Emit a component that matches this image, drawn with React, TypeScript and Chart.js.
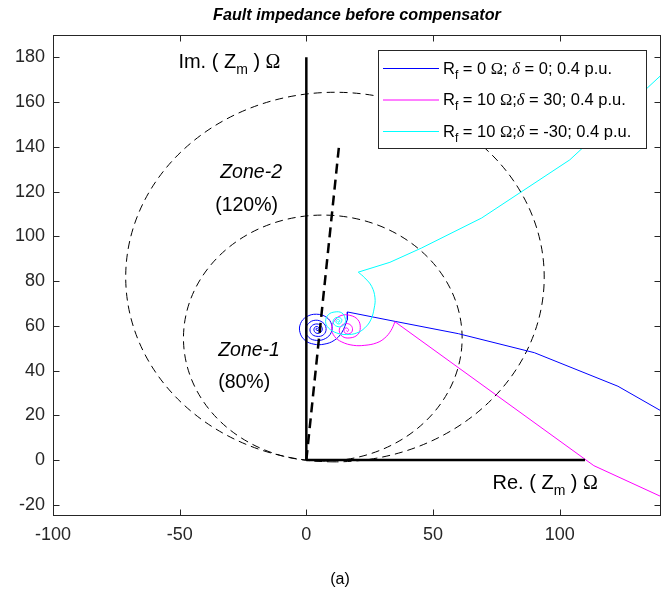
import React, { useEffect, useRef } from 'react';
import { Chart, registerables } from 'chart.js';
Chart.register(...registerables);

// ---- axis ticks ----
const X_TICKS = [-100, -50, 0, 50, 100];
const Y_TICKS = [-20, 0, 20, 40, 60, 80, 100, 120, 140, 160, 180];

// ---- Rf = 0, delta = 0 (blue) ----
const blueLineRe = [140, 123, 90, 60, 35, 16.2, 16.2];
const blueLineIm = [22, 33, 48, 56.5, 62, 66.2, 62.8];
const blueSpiralRe = [16.2, 14, 11, 7, 3, -0.5, -2.5, -2.3, 0, 4, 8, 10, 9.8, 7.5, 4, 1, -0.3, 0.8, 3.5, 6.5, 7.8, 6.8, 4.2, 2, 1.5, 3, 5.3, 6.3, 5.4, 3.8, 3, 3.6, 4.8, 5, 4.2, 3.8, 4.2, 4.4];
const blueSpiralIm = [62.8, 57, 53.5, 51.8, 51.8, 53.5, 57, 61, 64, 65.2, 63.8, 60.5, 57, 54.3, 53.5, 54.8, 58, 61, 62.5, 61.5, 58.8, 56, 55.3, 56.5, 58.8, 60.6, 60.5, 58.6, 56.9, 56.8, 58.2, 59.6, 59.4, 58.3, 57.9, 58.6, 59, 58.6];

// ---- Rf = 10, delta = 30 (magenta) ----
const magLineRe = [140, 113.5, 35];
const magLineIm = [-16.3, -2.5, 61.8];
const magSpiralRe = [35, 33.4, 31, 27.8, 23.1, 18.5, 14, 11.1, 10, 11.1, 13.7, 17.2, 20.3, 21.3, 20.3, 17.2, 14.2, 13, 14, 16.2, 17.9, 18.1, 16.8, 15.3, 14.9, 15.8, 16.7, 16.2, 15.9];
const magSpiralIm = [61.8, 57.9, 54.6, 52.4, 51.3, 51.3, 52.8, 55.3, 58.8, 62.3, 64.6, 64.7, 62.8, 59.3, 56.1, 54.6, 55.3, 57.9, 60.2, 61, 59.8, 57.6, 56.4, 56.8, 58.2, 59.1, 58.2, 57.4, 57.9];

// ---- Rf = 10, delta = -30 (cyan) ----
const cyanLineRe = [140, 104, 69.2, 45.5, 33, 20.5];
const cyanLineIm = [172, 134.2, 108.2, 94.8, 88.4, 84];
const cyanSpiralRe = [20.5, 23.1, 25.8, 27.1, 26.8, 25.5, 23.1, 19.9, 15.9, 12, 8.7, 7.6, 8.7, 11.3, 14, 15.3, 15.3, 14, 12, 10.6, 11, 12.6, 14, 13.4, 12.2, 11.7, 12.4, 13.2, 12.9, 12.4, 12.6];
const cyanSpiralIm = [84, 81.4, 77.6, 72.5, 68, 62.8, 59.1, 56.8, 56.1, 56.8, 59.1, 62, 65, 66.2, 65.8, 63.5, 61.3, 59.8, 59.8, 61.3, 63.1, 63.8, 62.8, 61.1, 61, 62, 62.9, 62.3, 61.6, 61.9, 62];

// ---- relay characteristic ----
const lineAngleRe = [0, 13];
const lineAngleIm = [0, 141.5];
const imAxisRe = [0, 0];
const imAxisIm = [0, 180];
const reAxisRe = [0, 110];
const reAxisIm = [0, 0];
const zoneCenterRe = [6.5, 11.3];
const zoneCenterIm = [54.5, 81.8];
const zoneRadius = [55, 82.6];

const LEGEND_LABELS = [
  { color: '#0000FF', rf: '0', delta: '0', gap: ' ' },
  { color: '#FF00FF', rf: '10', delta: '30', gap: '' },
  { color: '#00FFFF', rf: '10', delta: '-30', gap: '' },
];

const SANS = '"Liberation Sans", Arial, Helvetica, sans-serif';
const SERIF = '"Liberation Serif", "Times New Roman", serif';
const AX = '#262626';

const pts = (re: number[], im: number[]) => re.map((x, i) => ({ x, y: im[i] }));

type Piece = { t: string; font: string; dy?: number };
function drawPieces(ctx: CanvasRenderingContext2D, x: number, y: number, pieces: Piece[]) {
  let cx = x;
  for (const p of pieces) {
    ctx.font = p.font;
    ctx.fillText(p.t, cx, y + (p.dy || 0));
    cx += ctx.measureText(p.t).width;
  }
}

const decorPlugin = {
  id: 'decor',
  beforeDatasetsDraw(chart: any) {
    const { ctx, chartArea: a, scales } = chart;
    const xs = scales.x, ys = scales.y;
    ctx.save();
    ctx.beginPath();
    ctx.rect(a.left, a.top, a.right - a.left, a.bottom - a.top);
    ctx.clip();
    ctx.strokeStyle = '#000';
    ctx.lineWidth = 1;
    ctx.setLineDash([8, 5]);
    for (let i = 0; i < zoneRadius.length; i++) {
      const cx = xs.getPixelForValue(zoneCenterRe[i]);
      const cy = ys.getPixelForValue(zoneCenterIm[i]);
      const rx = Math.abs(xs.getPixelForValue(zoneCenterRe[i] + zoneRadius[i]) - cx);
      const ry = Math.abs(ys.getPixelForValue(zoneCenterIm[i] + zoneRadius[i]) - cy);
      ctx.beginPath();
      ctx.ellipse(cx, cy, rx, ry, 0, Math.PI / 2, Math.PI / 2 + 2 * Math.PI);
      ctx.stroke();
    }
    ctx.restore();
  },
  afterDatasetsDraw(chart: any) {
    const { ctx, chartArea: a, scales } = chart;
    const xs = scales.x, ys = scales.y;
    ctx.save();
    // frame
    ctx.strokeStyle = AX;
    ctx.lineWidth = 1;
    ctx.setLineDash([]);
    const L = Math.round(a.left) + 0.5, R = Math.round(a.right) - 0.5;
    const T = Math.round(a.top) + 0.5, B = Math.round(a.bottom) - 0.5;
    ctx.strokeRect(L, T, R - L, B - T);
    const tl = 6;
    ctx.beginPath();
    for (const v of X_TICKS) {
      const px = Math.round(xs.getPixelForValue(v)) + 0.5;
      ctx.moveTo(px, B); ctx.lineTo(px, B - tl);
      ctx.moveTo(px, T); ctx.lineTo(px, T + tl);
    }
    for (const v of Y_TICKS) {
      const py = Math.round(ys.getPixelForValue(v)) + 0.5;
      ctx.moveTo(L, py); ctx.lineTo(L + tl, py);
      ctx.moveTo(R, py); ctx.lineTo(R - tl, py);
    }
    ctx.stroke();

    // annotations
    ctx.fillStyle = '#000';
    ctx.textBaseline = 'alphabetic';
    ctx.textAlign = 'left';
    const F = `20px ${SANS}`;
    const FS = `14px ${SANS}`;
    const FI = `italic 19.5px ${SANS}`;
    const FP = `19.5px ${SANS}`;
    const FG = `20px ${SERIF}`;
    drawPieces(ctx, xs.getPixelForValue(-50.5), ys.getPixelForValue(175.2), [
      { t: 'Im. ( Z', font: F }, { t: 'm', font: FS, dy: 6 }, { t: ' ) ', font: F }, { t: 'Ω', font: FG },
    ]);
    drawPieces(ctx, xs.getPixelForValue(73.5), ys.getPixelForValue(-13), [
      { t: 'Re. ( Z', font: F }, { t: 'm', font: FS, dy: 6 }, { t: ' ) ', font: F }, { t: 'Ω', font: FG },
    ]);
    drawPieces(ctx, xs.getPixelForValue(-34), ys.getPixelForValue(126), [{ t: 'Zone-2', font: FI }]);
    drawPieces(ctx, xs.getPixelForValue(-36), ys.getPixelForValue(111.4), [{ t: '(120%)', font: FP }]);
    drawPieces(ctx, xs.getPixelForValue(-34.8), ys.getPixelForValue(46.7), [{ t: 'Zone-1', font: FI }]);
    drawPieces(ctx, xs.getPixelForValue(-34.8), ys.getPixelForValue(32), [{ t: '(80%)', font: FP }]);

    // legend
    const lx = 378.5, ly = 50.5, lw = 268, lh = 98;
    ctx.fillStyle = '#fff';
    ctx.fillRect(lx, ly, lw, lh);
    ctx.strokeStyle = AX;
    ctx.strokeRect(lx, ly, lw, lh);
    const LF = `16.5px ${SANS}`;
    const LFS = `12px ${SANS}`;
    const LFG = `16.5px ${SERIF}`;
    const LFD = `italic 16.5px ${SERIF}`;
    LEGEND_LABELS.forEach((item, i) => {
      const cy = 68 + i * 31.5;
      ctx.strokeStyle = item.color;
      ctx.lineWidth = 1;
      ctx.beginPath();
      ctx.moveTo(383, cy + 0.5); ctx.lineTo(439, cy + 0.5);
      ctx.stroke();
      ctx.fillStyle = '#000';
      drawPieces(ctx, 443, cy + 5.5, [
        { t: 'R', font: LF }, { t: 'f', font: LFS, dy: 5 }, { t: ` = ${item.rf} `, font: LF }, { t: 'Ω', font: LFG },
        { t: ';' + item.gap, font: LF }, { t: 'δ', font: LFD }, { t: ` = ${item.delta}; 0.4 p.u.`, font: LF },
      ]);
    });

    // title and caption
    ctx.fillStyle = '#000';
    ctx.textAlign = 'center';
    ctx.font = `bold italic 16.2px ${SANS}`;
    ctx.fillText('Fault impedance before compensator', (a.left + a.right) / 2, 20);
    ctx.font = `16px ${SANS}`;
    ctx.fillText('(a)', 340, 584);
    ctx.restore();
  },
};

export default function App() {
  const ref = useRef<HTMLCanvasElement | null>(null);
  useEffect(() => {
    if (!ref.current) return;
    const thin = (color: string, d: { x: number; y: number }[], tension = 0) => ({
      data: d, borderColor: color, borderWidth: 1, pointRadius: 0, showLine: true, tension, fill: false, order: 5,
    });
    const chart = new Chart(ref.current, {
      type: 'scatter',
      data: {
        datasets: [
          { ...thin('#0000FF', pts(blueLineRe, blueLineIm)), order: 6 },
          { ...thin('#0000FF', pts(blueSpiralRe, blueSpiralIm), 0.4), order: 6 },
          { ...thin('#FF00FF', pts(magLineRe, magLineIm)), order: 5 },
          { ...thin('#FF00FF', pts(magSpiralRe, magSpiralIm), 0.4), order: 5 },
          { ...thin('#00FFFF', pts(cyanLineRe, cyanLineIm)), order: 4 },
          { ...thin('#00FFFF', pts(cyanSpiralRe, cyanSpiralIm), 0.4), order: 4 },
          { data: pts(imAxisRe, imAxisIm), borderColor: '#000', borderWidth: 2.5, pointRadius: 0, showLine: true, order: 2 },
          { data: pts(reAxisRe, reAxisIm), borderColor: '#000', borderWidth: 2.5, pointRadius: 0, showLine: true, order: 2 },
          { data: pts(lineAngleRe, lineAngleIm), borderColor: '#000', borderWidth: 2.5, borderDash: [10, 6], pointRadius: 0, showLine: true, order: 1 },
        ] as any,
      },
      options: {
        animation: false,
        responsive: false,
        devicePixelRatio: 1,
        layout: { padding: { top: 35, right: 11, left: 0, bottom: 0 } },
        plugins: { legend: { display: false }, tooltip: { enabled: false }, title: { display: false } },
        scales: {
          x: {
            type: 'linear', min: -100, max: 140,
            grid: { display: false, drawTicks: false },
            border: { display: false },
            ticks: { color: AX, font: { family: SANS, size: 18 }, padding: 8, maxRotation: 0, autoSkip: false },
            afterBuildTicks: (s: any) => { s.ticks = X_TICKS.map((v) => ({ value: v })); },
            afterFit: (s: any) => { s.height = 78; },
          },
          y: {
            type: 'linear', min: -25, max: 190,
            grid: { display: false, drawTicks: false },
            border: { display: false },
            ticks: { color: AX, font: { family: SANS, size: 18 }, padding: 8, autoSkip: false },
            afterBuildTicks: (s: any) => { s.ticks = Y_TICKS.map((v) => ({ value: v })); },
            afterFit: (s: any) => { s.width = 53; },
          },
        },
      } as any,
      plugins: [decorPlugin],
    });
    return () => chart.destroy();
  }, []);
  return (
    <div style={{ position: 'absolute', left: 0, top: 0, width: 672, height: 594, background: '#fff' }}>
      <canvas ref={ref} width={672} height={594} style={{ width: 672, height: 594 }} />
    </div>
  );
}
